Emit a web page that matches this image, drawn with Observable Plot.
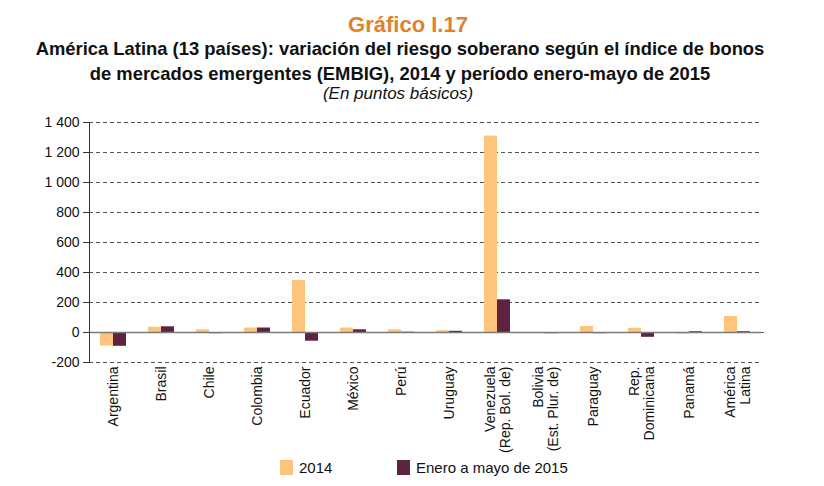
<!DOCTYPE html>
<html>
<head>
<meta charset="utf-8">
<script src="https://cdn.jsdelivr.net/npm/d3@7"></script>
<script src="https://cdn.jsdelivr.net/npm/@observablehq/plot@0.6"></script>
<style>
  html, body { margin: 0; padding: 0; background: #fff; }
  body { width: 824px; height: 486px; overflow: hidden; font-family: "Liberation Sans", Arial, sans-serif; }
  #header { height: 110px; position: relative; text-align: center; }
  #kicker { position: absolute; top: 14px; left: 0; right: 8px; color: #E0812F; font-weight: bold; font-size: 22px; line-height: 22px; }
  #title { position: absolute; top: 36px; left: 0; right: 24px; color: #111; font-weight: bold; font-size: 18.4px; line-height: 25px; }
  #subtitle { position: absolute; top: 85px; left: 0; right: 28px; color: #111; font-style: italic; font-size: 17px; line-height: 17px; }
  #legend { position: relative; height: 31px; font-size: 15px; color: #111; }
  .item { position: absolute; top: 4px; display: flex; align-items: center; }
  .sw { width: 13px; height: 15px; display: inline-block; margin-right: 6px; }
</style>
</head>
<body>
<div id="header">
  <div id="kicker">Gráfico I.17</div>
  <div id="title">América Latina (13 países): variación del riesgo soberano según el índice de bonos<br>de mercados emergentes (EMBIG), 2014 y período enero-mayo de 2015</div>
  <div id="subtitle">(En puntos básicos)</div>
</div>
<div id="chart"></div>
<div id="legend"></div>
<script>
const countries = ["Argentina","Brasil","Chile","Colombia","Ecuador","México","Perú","Uruguay","Venezuela","Bolivia","Paraguay","Rep. Dominicana","Panamá","América Latina"];
const countryLabels = ["Argentina","Brasil","Chile","Colombia","Ecuador","México","Perú","Uruguay","Venezuela\n(Rep. Bol. de)","Bolivia\n(Est. Plur. de)","Paraguay","Rep.\nDominicana","Panamá","América\nLatina"];
const series = ["2014","Enero a mayo de 2015"];
const colors = ["#FFC47C","#5E2340"];
const values2014 = [-90, 35, 18, 30, 347, 30, 18, 12, 1309, -6, 40, 28, -10, 107];
const values2015 = [-92, 38, -8, 30, -58, 18, 2, 8, 218, -8, -8, -32, 5, 5];
const yTicks = [-200, 0, 200, 400, 600, 800, 1000, 1200, 1400];

const data = [];
countries.forEach((c, i) => {
  data.push({country: c, series: series[0], value: values2014[i]});
  data.push({country: c, series: series[1], value: values2015[i]});
});

const fmt = d => d3.format(",")(d).replace(/,/g, " ").replace("−", "-");

const chart = Plot.plot({
  width: 824,
  height: 345,
  marginTop: 12,
  marginBottom: 93,
  marginLeft: 83,
  marginRight: 58,
  style: {fontFamily: "'Liberation Sans', Arial, sans-serif", color: "#111", background: "#fff"},
  fx: {domain: countries, padding: 0, label: null},
  x: {domain: series, paddingInner: 0, paddingOuter: 0.78, axis: null},
  y: {domain: [-200, 1400], label: null},
  color: {domain: series, range: colors},
  marks: [
    Plot.ruleY(yTicks.filter(d => d !== 0), {stroke: "#555", strokeWidth: 1, strokeDasharray: "4,3"}),
    Plot.barY(data, {fx: "country", x: "series", y: "value", fill: "series"}),
    Plot.ruleY([0], {stroke: "#555", strokeWidth: 1, markerStart: "tick-x", markerEnd: "tick-x"}),
    Plot.ruleY([0], {stroke: "#7a7a7a", strokeWidth: 1.5}),
    Plot.axisY({ticks: yTicks, tickFormat: fmt, tickSize: 6, tickPadding: 4, fontSize: 14, stroke: "#333", label: null}),
    Plot.frame({anchor: "left", facetAnchor: "left", stroke: "#333"}),
    Plot.axisFx({anchor: "bottom", tickSize: 0, tickPadding: 4, tickRotate: -90, textAnchor: "end", lineAnchor: "middle", lineHeight: 1.08, fontSize: 14, label: null, tickFormat: d => countryLabels[countries.indexOf(d)]})
  ]
});
document.getElementById("chart").appendChild(chart);

const legend = document.getElementById("legend");
const lefts = [280, 397];
series.forEach((s, i) => {
  const it = document.createElement("div");
  it.className = "item";
  it.style.left = lefts[i] + "px";
  it.innerHTML = `<span class="sw" style="background:${colors[i]}"></span><span>${s}</span>`;
  legend.appendChild(it);
});
</script>
</body>
</html>
